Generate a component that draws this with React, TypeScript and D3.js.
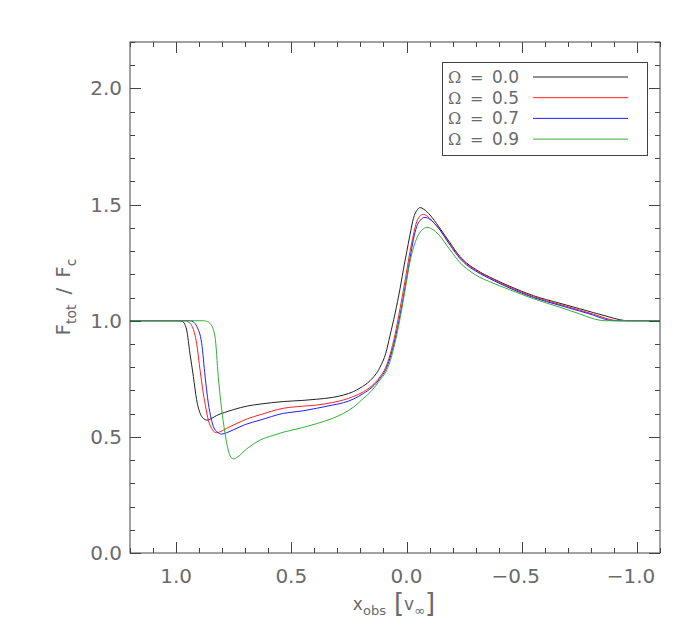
import React from "react";
import * as d3 from "d3";

const xTicks = [1.0, 0.5, 0.0, -0.5, -1.0];
const xTickLabels = ["1.0", "0.5", "0.0", "\u22120.5", "\u22121.0"];
const yTicks = [0.0, 0.5, 1.0, 1.5, 2.0];
const yTickLabels = ["0.0", "0.5", "1.0", "1.5", "2.0"];

const legendSymbol = "\u03A9";
const legendValues = ["0.0", "0.5", "0.7", "0.9"];
const seriesColors = ["#222222", "#ff2020", "#2020ff", "#33b033"];

const blackX = [1.2, 0.99, 0.975, 0.965, 0.954, 0.94, 0.925, 0.911, 0.895, 0.88, 0.867, 0.845, 0.824, 0.79, 0.752, 0.69, 0.636, 0.535, 0.45, 0.39, 0.32, 0.274, 0.23, 0.202, 0.158, 0.115, 0.09, 0.072, 0.05, 0.028, 0.01, -0.001, -0.015, -0.03, -0.045, -0.059, -0.075, -0.102, -0.14, -0.189, -0.232, -0.26, -0.3, -0.38, -0.449, -0.55, -0.666, -0.75, -0.811, -0.87, -0.927, -0.96, -1.1];
const blackY = [1.0, 1.0, 0.998, 0.99, 0.96, 0.86, 0.76, 0.66, 0.6, 0.578, 0.572, 0.58, 0.592, 0.605, 0.617, 0.633, 0.641, 0.652, 0.657, 0.662, 0.67, 0.68, 0.695, 0.71, 0.742, 0.8, 0.86, 0.935, 1.03, 1.139, 1.24, 1.297, 1.37, 1.441, 1.475, 1.487, 1.48, 1.455, 1.405, 1.335, 1.276, 1.249, 1.221, 1.179, 1.148, 1.108, 1.075, 1.052, 1.035, 1.019, 1.004, 1.0, 1.0];

const redX = [1.2, 0.96, 0.947, 0.93, 0.911, 0.896, 0.882, 0.87, 0.86, 0.845, 0.835, 0.824, 0.8, 0.78, 0.74, 0.69, 0.636, 0.535, 0.45, 0.39, 0.32, 0.274, 0.23, 0.187, 0.15, 0.115, 0.09, 0.072, 0.05, 0.028, 0.005, -0.015, -0.03, -0.044, -0.06, -0.073, -0.09, -0.12, -0.15, -0.189, -0.232, -0.26, -0.3, -0.38, -0.449, -0.55, -0.666, -0.75, -0.811, -0.86, -0.9, -0.93, -1.1];
const redY = [1.0, 1.0, 0.995, 0.975, 0.903, 0.788, 0.688, 0.62, 0.572, 0.535, 0.522, 0.518, 0.526, 0.537, 0.556, 0.578, 0.595, 0.623, 0.632, 0.637, 0.648, 0.659, 0.674, 0.694, 0.72, 0.759, 0.8, 0.852, 0.94, 1.053, 1.18, 1.297, 1.37, 1.426, 1.452, 1.458, 1.45, 1.42, 1.385, 1.33, 1.272, 1.245, 1.218, 1.176, 1.144, 1.104, 1.07, 1.046, 1.028, 1.012, 1.002, 1.0, 1.0];

const blueX = [1.2, 0.94, 0.925, 0.91, 0.889, 0.874, 0.86, 0.848, 0.838, 0.82, 0.802, 0.78, 0.752, 0.7, 0.636, 0.535, 0.45, 0.39, 0.32, 0.274, 0.23, 0.187, 0.15, 0.115, 0.09, 0.072, 0.05, 0.028, 0.005, -0.015, -0.03, -0.044, -0.06, -0.08, -0.1, -0.13, -0.189, -0.232, -0.26, -0.3, -0.38, -0.449, -0.55, -0.666, -0.75, -0.811, -0.85, -0.88, -0.91, -1.1];
const blueY = [1.0, 1.0, 0.995, 0.975, 0.903, 0.759, 0.644, 0.58, 0.544, 0.52, 0.512, 0.518, 0.53, 0.553, 0.572, 0.601, 0.612, 0.623, 0.637, 0.647, 0.663, 0.687, 0.713, 0.752, 0.79, 0.838, 0.92, 1.025, 1.15, 1.268, 1.35, 1.405, 1.433, 1.445, 1.437, 1.41, 1.325, 1.268, 1.241, 1.214, 1.172, 1.14, 1.1, 1.066, 1.042, 1.024, 1.01, 1.002, 1.0, 1.0];

const greenX = [1.2, 0.88, 0.867, 0.85, 0.831, 0.817, 0.802, 0.79, 0.78, 0.77, 0.76, 0.749, 0.735, 0.72, 0.708, 0.68, 0.636, 0.58, 0.535, 0.45, 0.39, 0.32, 0.274, 0.23, 0.187, 0.15, 0.115, 0.09, 0.072, 0.05, 0.028, 0.005, -0.015, -0.035, -0.051, -0.07, -0.088, -0.11, -0.14, -0.189, -0.232, -0.26, -0.3, -0.38, -0.449, -0.55, -0.666, -0.75, -0.8, -0.83, -0.86, -1.1];
const greenY = [1.0, 1.0, 0.997, 0.985, 0.931, 0.759, 0.616, 0.53, 0.472, 0.43, 0.41, 0.405, 0.412, 0.423, 0.436, 0.458, 0.486, 0.506, 0.52, 0.54, 0.557, 0.58, 0.601, 0.628, 0.666, 0.7, 0.745, 0.78, 0.823, 0.905, 1.01, 1.14, 1.254, 1.33, 1.369, 1.393, 1.402, 1.395, 1.37, 1.305, 1.25, 1.225, 1.197, 1.16, 1.133, 1.095, 1.058, 1.03, 1.012, 1.004, 1.0, 1.0];

const seriesX = [blackX, redX, blueX, greenX];
const seriesY = [blackY, redY, blueY, greenY];

const W = 700;
const H = 636;
const L = 130, R = 660, T = 42, B = 553;
const FONT = "'DejaVu Sans', sans-serif";
const SERIF = "'DejaVu Serif', serif";
const TXT = "#6a6a6a";
const AX = "#444";

export default function App() {
  const x = d3.scaleLinear().domain([1.2, -1.1]).range([L, R]);
  const y = d3.scaleLinear().domain([0, 2.2]).range([B, T]);
  const line = d3
    .line<[number, number]>()
    .x((d) => x(d[0]))
    .y((d) => y(d[1]))
    .curve(d3.curveMonotoneX);

  const xMinor = d3.range(-11, 13).map((i) => i / 10);
  const yMinor = d3.range(0, 23).map((i) => i / 10);
  const isMajor = (v: number) => Math.abs(v * 2 - Math.round(v * 2)) < 1e-6;

  return (
    <svg width={W} height={H} style={{ display: "block", position: "absolute", left: 0, top: 0 }}>
      <rect x={0} y={0} width={W} height={H} fill="#fff" />
      <defs>
        <clipPath id="plotclip">
          <rect x={L} y={T} width={R - L} height={B - T} />
        </clipPath>
      </defs>
      <g clipPath="url(#plotclip)">
        {seriesX.map((xs, i) => (
          <path
            key={i}
            d={line(xs.map((v, j) => [v, seriesY[i][j]] as [number, number])) || ""}
            fill="none"
            stroke={seriesColors[i]}
            strokeWidth={1}
          />
        ))}
      </g>
      {/* frame */}
      <rect x={L} y={T} width={R - L} height={B - T} fill="none" stroke={AX} strokeWidth={1} />
      {/* x ticks */}
      {xMinor.map((v) => {
        const len = isMajor(v) ? 11 : 5;
        const px = Math.round(x(v)) + 0.5;
        return (
          <g key={"xt" + v}>
            <line x1={px} x2={px} y1={B} y2={B - len} stroke={AX} />
            <line x1={px} x2={px} y1={T} y2={T + len} stroke={AX} />
          </g>
        );
      })}
      {yMinor.map((v) => {
        const len = isMajor(v) ? 11 : 5;
        const py = Math.round(y(v)) + 0.5;
        return (
          <g key={"yt" + v}>
            <line x1={L} x2={L + len} y1={py} y2={py} stroke={AX} />
            <line x1={R} x2={R - len} y1={py} y2={py} stroke={AX} />
          </g>
        );
      })}
      {/* tick labels */}
      {xTicks.map((v, i) => (
        <text
          key={"xl" + i}
          x={x(v) - (v < 0 ? 6 : 0)}
          y={583}
          textAnchor="middle"
          fontFamily={FONT}
          fontSize={20}
          fill={TXT}
        >
          {xTickLabels[i]}
        </text>
      ))}
      {yTicks.map((v, i) => (
        <text
          key={"yl" + i}
          x={122}
          y={y(v) + 7}
          textAnchor="end"
          fontFamily={FONT}
          fontSize={20}
          fill={TXT}
        >
          {yTickLabels[i]}
        </text>
      ))}
      {/* x axis title */}
      <text x={394} y={610} textAnchor="middle" fontFamily={FONT} fill={TXT} fontSize={17}>
        x
        <tspan fontSize={13} dy={5}>obs</tspan>
        <tspan fontSize={26} dy={-3} dx={8}>[</tspan>
        <tspan fontSize={17} dy={-2}>v</tspan>
        <tspan fontSize={13} dy={5}>∞</tspan>
        <tspan fontSize={26} dy={-3}>]</tspan>
      </text>
      {/* y axis title */}
      <text
        transform={`translate(70,297) rotate(-90)`}
        textAnchor="middle"
        fontFamily={FONT}
        fill={TXT}
        fontSize={20}
      >
        F
        <tspan fontSize={14} dy={6}>tot</tspan>
        <tspan fontSize={20} dy={-6} dx={10}>/</tspan>
        <tspan fontSize={20} dx={10}>F</tspan>
        <tspan fontSize={14} dy={6}>c</tspan>
      </text>
      {/* legend */}
      <rect x={442.5} y={62.5} width={205} height={93} fill="#fff" stroke={AX} strokeWidth={1} />
      {legendValues.map((val, i) => {
        const by = 83 + i * 20.7;
        return (
          <g key={"lg" + i}>
            <text x={448} y={by} fontFamily={SERIF} fontSize={16} fill={TXT}>
              {legendSymbol}
            </text>
            <text x={470} y={by} fontFamily={FONT} fontSize={16} fill={TXT}>
              =
            </text>
            <text x={492} y={by} fontFamily={FONT} fontSize={17} fill={TXT}>
              {val}
            </text>
            <line x1={533} x2={628} y1={by - 6} y2={by - 6} stroke={seriesColors[i]} strokeWidth={1} />
          </g>
        );
      })}
    </svg>
  );
}
